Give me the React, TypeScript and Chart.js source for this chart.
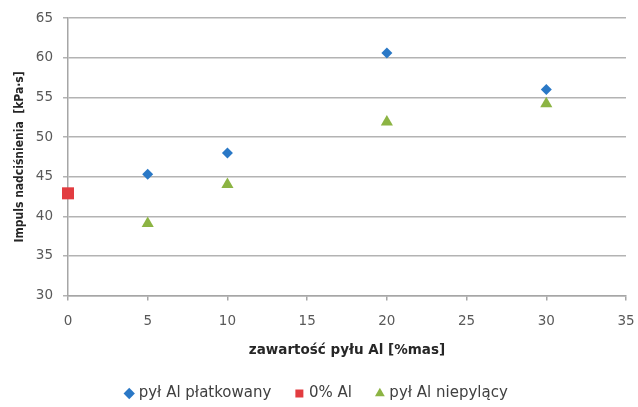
import React, { useEffect, useRef } from "react";
import { Chart, registerables } from "chart.js";

Chart.register(...registerables);

const platkowanyX = [5, 10, 20, 30];
const platkowanyY = [45.3, 48.0, 60.6, 56.0];
const zeroX = [0];
const zeroY = [42.9];
const niepylacyX = [5, 10, 20, 30];
const niepylacyY = [39.1, 44.0, 51.9, 54.2];
const seriesNames = ["pył Al płatkowany", "0% Al", "pył Al niepylący"];
const xTitle = "zawartość pyłu Al [%mas]";
const yTitle = "Impuls nadciśnienia  [kPa·s]";

const toPts = (xs: number[], ys: number[]) => xs.map((x, i) => ({ x, y: ys[i] }));

export default function App() {
  const ref = useRef<HTMLCanvasElement | null>(null);
  useEffect(() => {
    if (!ref.current) return;
    const fam = "'DejaVu Sans', sans-serif";
    const tickFont = { family: fam, size: 13.5 };
    const chart = new Chart(ref.current, {
      type: "scatter",
      data: {
        datasets: [
          {
            label: seriesNames[0],
            data: toPts(platkowanyX, platkowanyY),
            pointStyle: "rectRot",
            pointRadius: 5.5,
            backgroundColor: "#2a78c6",
            borderColor: "#2a78c6",
            borderWidth: 0,
            clip: false,
          },
          {
            label: seriesNames[1],
            data: toPts(zeroX, zeroY),
            pointStyle: "rect",
            pointRadius: 8.5,
            backgroundColor: "#e23c40",
            borderColor: "#e23c40",
            borderWidth: 0,
            clip: false,
          },
          {
            label: seriesNames[2],
            data: toPts(niepylacyX, niepylacyY),
            pointStyle: "triangle",
            pointRadius: 7,
            backgroundColor: "#8cb443",
            borderColor: "#8cb443",
            borderWidth: 0,
            clip: false,
          },
        ],
      },
      options: {
        responsive: false,
        animation: false,
        layout: { padding: { top: 17, right: 3, bottom: -4, left: 0 } },
        plugins: {
          tooltip: { enabled: false },
          legend: {
            position: "bottom",
            labels: {
              usePointStyle: true,
              boxHeight: 8,
              boxWidth: 4,
              padding: 26,
              color: "#404040",
              font: { family: fam, size: 15 },
            },
          },
        },
        scales: {
          x: {
            type: "linear",
            min: 0,
            max: 35,
            ticks: { stepSize: 5, color: "#595959", font: tickFont, padding: 13 },
            grid: { drawOnChartArea: false, drawTicks: true, tickLength: 5, color: "#a6a6a6", lineWidth: 1.5 },
            border: { display: true, color: "#a6a6a6", width: 1.5 },
            title: {
              display: true,
              text: xTitle,
              color: "#262626",
              font: { family: fam, size: 13.5, weight: "bold" },
              padding: { top: 0, bottom: 1 },
            },
            afterFit: (scale: any) => {
              scale.paddingRight = 12;
            },
          },
          y: {
            min: 30,
            max: 65,
            ticks: { stepSize: 5, color: "#595959", font: tickFont, padding: 10 },
            grid: { drawTicks: true, tickLength: 5, color: "#b3b3b3", lineWidth: 1.5 },
            border: { display: true, color: "#a6a6a6", width: 1.5 },
            title: {
              display: true,
              text: yTitle,
              color: "#262626",
              font: { family: "'Liberation Sans Narrow', 'DejaVu Sans Condensed', sans-serif", size: 12, weight: "bold" },
              padding: { top: 13, bottom: 0 },
            },
            afterFit: (scale: any) => {
              scale.width = 68;
            },
          },
        },
      },
    } as any);
    return () => chart.destroy();
  }, []);
  return (
    <div style={{ position: "fixed", left: 0, top: 0, width: 638, height: 407, background: "#fff" }}>
      <canvas ref={ref} width={638} height={407} style={{ width: 638, height: 407 }} />
    </div>
  );
}
